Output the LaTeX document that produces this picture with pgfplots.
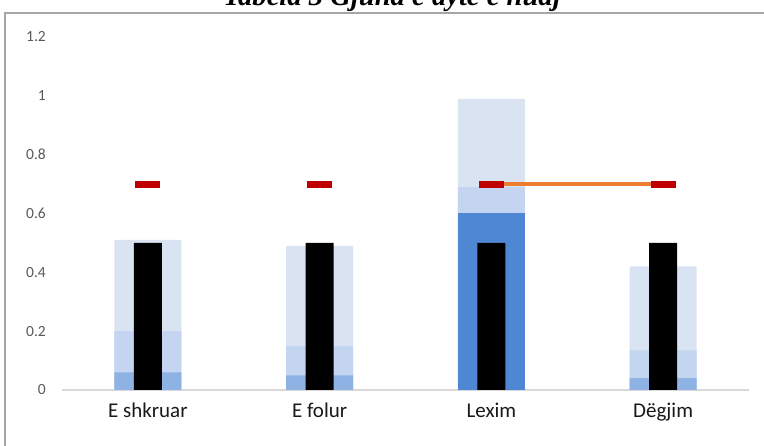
\documentclass[border=0pt]{standalone}
\usepackage{fontspec}
\setmainfont{Carlito}
\newfontfamily\titlefont{Liberation Serif}
\usepackage{pgfplots}
\usepackage{pgfplotstable}
\pgfplotsset{compat=1.18}

\definecolor{bandlight}{HTML}{DAE3F2}
\definecolor{bandmid}{HTML}{C3D5F0}
\definecolor{banddark}{HTML}{8FB2E4}
\definecolor{bandstrong}{HTML}{4F87D5}
\definecolor{target}{HTML}{C00000}
\definecolor{trend}{HTML}{ED7D31}
\definecolor{frame}{HTML}{A6A6A6}
\definecolor{ticktext}{HTML}{595959}
\definecolor{baseline}{HTML}{D9D9D9}

% bullet chart: background bands, measure and target
\pgfplotstableread{
x light mid actual goal
0 0.51  0.20 0.5 0.7
1 0.49  0.15 0.5 0.7
2 0.99  0.69 0.5 0.7
3 0.42  0.135 0.5 0.7
}\bullets

\begin{document}
\begin{tikzpicture}[x=1pt,y=1pt]
\useasboundingbox (0,0) rectangle (764,446);
\draw[frame, line width=2.5pt] (5,-20) rectangle (800,433);
\node[anchor=base] at (392,440) {\fontsize{28.6}{30}\selectfont\titlefont\bfseries\itshape Tabela 3 Gjuha e dytë e huaj};
\begin{axis}[
    at={(62pt,56pt)}, anchor=south west,
    scale only axis,
    width=687pt, height=353pt,
    xmin=-0.5, xmax=3.5,
    ymin=0, ymax=1.2,
    clip=false,
    axis x line*=bottom,
    axis y line*=left,
    x axis line style={draw=baseline, line width=1.2pt},
    y axis line style={draw=none},
    xtick={0,1,2,3},
    xticklabels={E shkruar, E folur, Lexim, Dëgjim},
    ytick={0,0.2,0.4,0.6,0.8,1,1.2},
    major tick length=0pt,
    /pgf/number format/assume math mode=true,
    yticklabel style={font=\fontsize{15.5}{18}\selectfont, text=ticktext, inner sep=0pt, xshift=-16pt},
    xticklabel style={font=\fontsize{21}{24}\selectfont, text=black!90, inner sep=0pt, yshift=-13pt},
]
\addplot[ybar, bar width=67pt, bar shift=0pt, fill=bandlight, draw=none] table[x=x, y=light] {\bullets};
\addplot[ybar, bar width=67pt, bar shift=0pt, fill=bandmid, draw=none] table[x=x, y=mid] {\bullets};
\addplot[ybar, bar width=67pt, bar shift=0pt, fill=banddark, draw=none] coordinates {(0,0.06) (1,0.05) (3,0.04)};
\addplot[ybar, bar width=67pt, bar shift=0pt, fill=bandstrong, draw=none] coordinates {(2,0.6)};
\addplot[ybar, bar width=28pt, bar shift=0pt, fill=black, draw=none] table[x=x, y=actual] {\bullets};
\addplot[trend, line width=3.3pt, mark=none] coordinates {(2,0.7) (3,0.7)};
\addplot[only marks, mark=-, mark size=12.5pt, mark options={draw=target, line width=7pt}] table[x=x, y=goal] {\bullets};
\end{axis}
\end{tikzpicture}
\end{document}
